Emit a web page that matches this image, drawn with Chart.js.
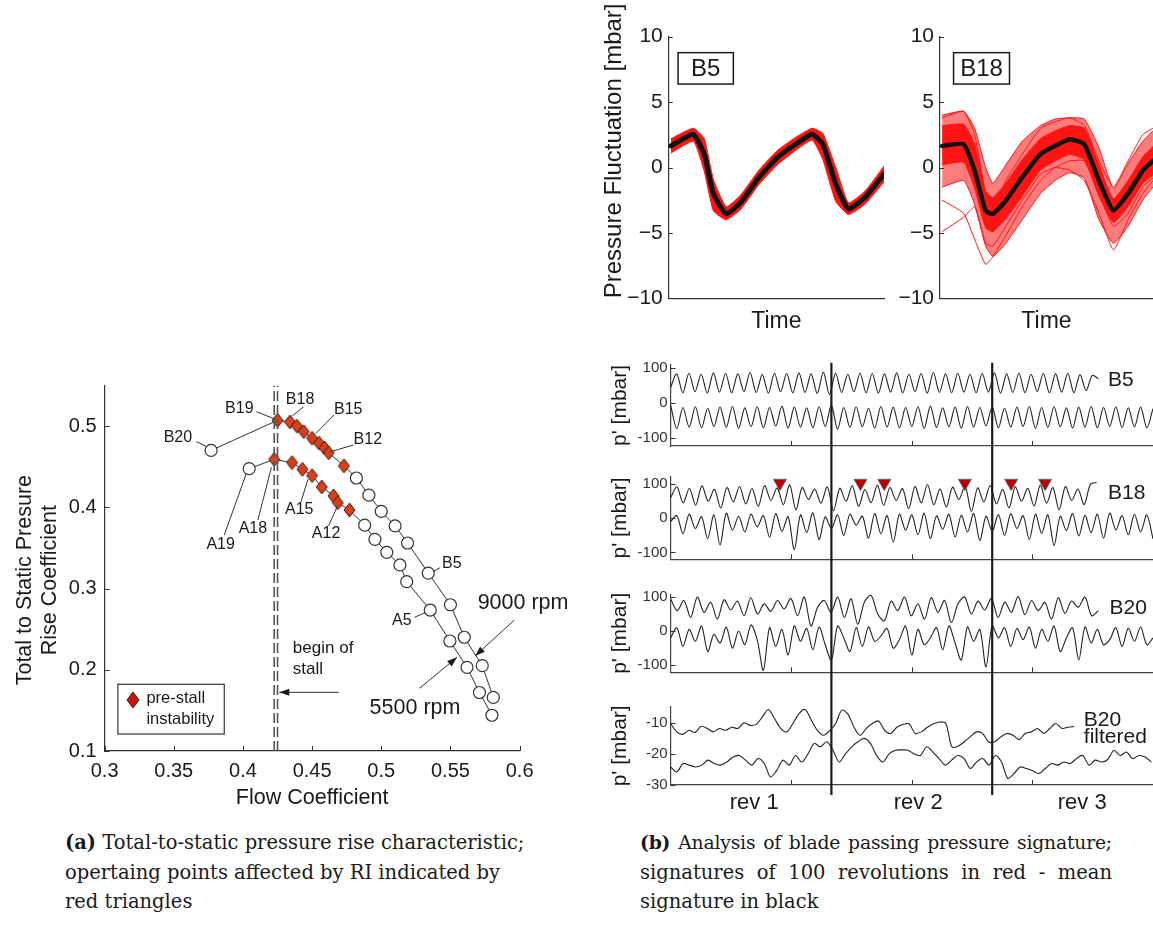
<!DOCTYPE html>
<html>
<head>
<meta charset="utf-8">
<title>Pressure rise characteristic and blade passing signatures</title>
<script src="https://cdn.jsdelivr.net/npm/chart.js@4.4.1/dist/chart.umd.min.js"></script>
<style>
  html, body { margin: 0; padding: 0; background: #fff; }
  body { position: relative; width: 1153px; height: 927px; overflow: hidden; }
  canvas { position: absolute; }
  .cap { position: absolute; font-family: "DejaVu Serif", "Liberation Serif", serif; font-size: 19.5px; line-height: 29.5px; color: #1a1a1a; white-space: nowrap; }
  .cap .j { text-align: justify; text-align-last: justify; }
  .cap .tight { font-size: 18.8px; letter-spacing: -0.2px; }
</style>
</head>
<body>
<canvas id="flowChart" width="578" height="450" style="left:0px;top:370px"></canvas>
<canvas id="sigB5" width="310" height="340" style="left:580px;top:0px"></canvas>
<canvas id="sigB18" width="263" height="340" style="left:890px;top:0px"></canvas>
<canvas id="stripB5" width="573" height="120" style="left:580px;top:340px"></canvas>
<canvas id="stripB18" width="573" height="115" style="left:580px;top:460px"></canvas>
<canvas id="stripB20" width="573" height="115" style="left:580px;top:575px"></canvas>
<canvas id="stripFilt" width="573" height="130" style="left:580px;top:690px"></canvas>

<div class="cap" style="left:65px;top:828px;width:480px">
  <div><b>(a)</b> Total-to-static pressure rise characteristic;</div>
  <div>opertaing points affected by RI indicated by</div>
  <div>red triangles</div>
</div>
<div class="cap" style="left:640px;top:828px;width:472px">
  <div class="j tight"><b>(b)</b> Analysis of blade passing pressure signature;</div>
  <div class="j">signatures of 100 revolutions in red - mean</div>
  <div>signature in black</div>
</div>

<script>
// ---------- (a) pressure rise characteristic ----------
const flowB = [0.377, 0.425, 0.434, 0.439, 0.444, 0.450, 0.455, 0.459, 0.462, 0.473, 0.482, 0.491, 0.500, 0.510, 0.519, 0.534, 0.550, 0.560, 0.573, 0.581];
const psiB = [0.470, 0.507, 0.505, 0.500, 0.493, 0.485, 0.479, 0.473, 0.467, 0.451, 0.436, 0.415, 0.395, 0.377, 0.356, 0.319, 0.280, 0.240, 0.205, 0.166];
const namesB = ['B20', 'B19', 'B18', 'B17', 'B16', 'B15', 'B14', 'B13', 'B12', 'B11', 'B10', 'B9', 'B8', 'B7', 'B6', 'B5', 'B4', 'B3', 'B2', 'B1'];
const preStallB = ['B19', 'B18', 'B17', 'B16', 'B15', 'B14', 'B13', 'B12', 'B11'];

const flowA = [0.4045, 0.4226, 0.4355, 0.443, 0.450, 0.457, 0.4655, 0.4686, 0.477, 0.488, 0.4954, 0.504, 0.5135, 0.5184, 0.5354, 0.5496, 0.562, 0.571, 0.580];
const psiA = [0.4475, 0.459, 0.455, 0.4467, 0.439, 0.425, 0.414, 0.4056, 0.3966, 0.378, 0.3605, 0.3445, 0.329, 0.3084, 0.2735, 0.2354, 0.203, 0.172, 0.144];
const namesA = ['A19', 'A18', 'A17', 'A16', 'A15', 'A14', 'A13', 'A12', 'A11', 'A10', 'A9', 'A8', 'A7', 'A6', 'A5', 'A4', 'A3', 'A2', 'A1'];
const preStallA = ['A18', 'A17', 'A16', 'A15', 'A14', 'A13', 'A12', 'A11'];

const stallFlow = [0.4226, 0.425];
const flowTicks = [0.3, 0.35, 0.4, 0.45, 0.5, 0.55, 0.6];
const psiTicks = [0.1, 0.2, 0.3, 0.4, 0.5];

// labels with leader lines (data coordinates)
const pointNotes = [
  { text: 'B20', at: [0.353, 0.486], from: [0.3664, 0.4807], to: [0.3741, 0.4745] },
  { text: 'B19', at: [0.3974, 0.5215], from: [0.4097, 0.5176], to: [0.4232, 0.5086] },
  { text: 'B18', at: [0.4413, 0.532], from: [0.4439, 0.5238], to: [0.4356, 0.5123] },
  { text: 'B15', at: [0.4761, 0.5206], from: [0.4658, 0.5135], to: [0.4528, 0.491] },
  { text: 'B12', at: [0.4903, 0.4828], from: [0.48, 0.4766], to: [0.4632, 0.4684] },
  { text: 'B5', at: [0.551, 0.331], from: [0.5425, 0.3256], to: [0.5373, 0.3207] },
  { text: 'A19', at: [0.3839, 0.3535], from: [0.3865, 0.3658], to: [0.4025, 0.4418] },
  { text: 'A18', at: [0.4072, 0.3732], from: [0.4108, 0.3843], to: [0.4206, 0.4492] },
  { text: 'A15', at: [0.4407, 0.3966], from: [0.442, 0.4068], to: [0.447, 0.4344] },
  { text: 'A12', at: [0.4601, 0.3679], from: [0.4619, 0.3773], to: [0.4684, 0.4015] },
  { text: 'A5', at: [0.5148, 0.2604], from: [0.5239, 0.2645], to: [0.5316, 0.2702] },
];
const speedNotes = [
  { text: '9000 rpm', at: [0.6025, 0.2818], from: [0.5962, 0.2612], to: [0.5678, 0.2169] },
  { text: '5500 rpm', at: [0.5244, 0.1525], from: [0.5277, 0.1772], to: [0.5548, 0.2153] },
];
const stallNote = { lines: ['begin of', 'stall'], x: 0.4361, y: [0.2264, 0.2006], from: [0.4692, 0.1722], to: [0.4263, 0.1722] };
const legendBox = { x: [0.3096, 0.3865], y: [0.1821, 0.1209], mark: [0.3205, 0.1628], textX: 0.3302, textY: [0.1649, 0.139], lines: ['pre-stall', 'instability'] };

// ---------- (b) top: mean signatures ----------
const sigTicks = [-10, -5, 0, 5, 10];
const timeB5 = [0.01, 0.114, 0.165, 0.207, 0.267, 0.334, 0.419, 0.504, 0.589, 0.666, 0.716, 0.776, 0.835, 0.912, 1.0];
const meanB5 = [1.65, 2.54, 1.0, -2.0, -3.55, -2.67, -0.76, 0.76, 1.78, 2.54, 1.78, -1.27, -3.17, -2.28, -0.5];
const upperB5 = [2.2, 3.0, 2.2, -0.9, -3.0, -2.1, -0.2, 1.3, 2.3, 3.0, 2.6, 0.0, -2.7, -1.8, 0.1];
const lowerB5 = [1.1, 2.0, -0.3, -3.3, -4.0, -3.2, -1.3, 0.2, 1.3, 2.1, 0.6, -2.6, -3.6, -2.8, -1.1];

const timeB18 = [0.01, 0.110, 0.161, 0.212, 0.246, 0.306, 0.382, 0.467, 0.535, 0.603, 0.671, 0.739, 0.806, 0.874, 0.942, 0.99];
const meanB18 = [1.65, 1.78, -0.25, -3.3, -3.55, -2.54, -0.76, 1.02, 1.65, 2.16, 1.78, -1.0, -3.3, -2.0, -0.25, 0.5];
const innerUpB18 = [3.2, 3.3, 1.8, -1.8, -2.3, -1.2, 0.6, 2.2, 2.8, 3.2, 3.0, 0.2, -2.4, -1.0, 0.8, 1.6];
const innerLoB18 = [0.2, 0.4, -1.6, -4.6, -4.9, -3.9, -2.2, -0.2, 0.5, 1.0, 0.6, -2.2, -4.2, -3.0, -1.2, -0.6];
const outerUpB18 = [4.0, 4.3, 3.0, 0.0, -1.2, 0.2, 2.0, 3.2, 3.7, 3.8, 3.7, 1.5, -1.6, 0.3, 2.0, 2.8];
const outerLoB18 = [-1.5, -1.0, -2.8, -6.0, -6.8, -5.8, -4.0, -2.0, -1.0, -0.4, -0.8, -4.0, -5.8, -4.5, -2.5, -1.5];
const strayB18a = [-2.5, -3.5, -5.5, -7.4, -6.8, -5.2, -3.0, -1.0, 0.0, 0.5, 0.5, -2.0, -4.5, -3.5, -1.5, -0.8];
const strayB18b = [-4.9, -3.8, -3.0, -5.8, -6.0, -4.5, -2.5, -0.5, 0.0, -0.2, -1.0, -3.5, -6.3, -4.0, -2.0, -1.0];
const strayB18c = [3.8, 4.3, 2.5, -2.0, -3.0, -1.0, 1.0, 3.0, 3.5, 3.8, 3.2, 0.5, -1.5, 0.5, 2.5, 3.0];

// ---------- (b) bottom: three revolutions of raw signal ----------
const revBoundaries = [1, 2];
const stripTickRevs = [0.75, 1.5, 2.25, 3];
const revLabels = ['rev 1', 'rev 2', 'rev 3'];
const revLabelAt = [0.52, 1.54, 2.56];

const b5Upper = [45, 84, 30, 86, 33, 83, 29, 87, 32, 85, 30, 84, 34, 88, 31, 82, 29, 86, 33, 85,
  30, 87, 31, 84, 28, 89, 25, 86, 31, 83, 33, 86, 30, 85, 29, 84, 32, 87, 30, 83,
  33, 85, 29, 88, 31, 84, 30, 86, 32, 83, 30, 85, 32, 87, 29, 84, 31, 86, 30, 83,
  34, 85, 30, 84, 32, 86, 30, 82, 36, 80, 70];
const b5Lower = [-5, -72, -12, -68, -10, -70, -14, -66, -11, -69, -9, -72, -13, -67, -10, -70, -12, -65, -8, -71,
  -11, -68, -13, -70, -10, -66, -6, -74, -12, -69, -10, -67, -14, -71, -9, -68, -11, -70, -12, -66,
  -10, -72, -8, -69, -13, -67, -11, -71, -9, -68, -12, -65, -10, -70, -14, -68, -11, -66, -9, -72,
  -12, -69, -10, -67, -13, -71, -11, -68, -9, -70, -12, -66, -10, -69, -13, -67, -11, -70, -15];

const b18Upper = [60, 92, 45, 88, 38, 95, 50, 85, 30, 90, 48, 93, 42, 87, 35, 96, 52, 89, 40, 98,
  25, 90, 55, 86, 44, 92, 22, 88, 50, 95, 35, 84, 46, 97, 38, 90, 52, 87, 28, 93,
  45, 99, 40, 86, 33, 91, 55, 94, 20, 89, 48, 96, 42, 85, 30, 92, 50, 88, 36, 97,
  44, 90, 25, 93, 52, 86, 40, 100, 105];
const b18Lower = [-10, 8, -45, 12, -30, 5, -60, 10, -78, 15, -35, 6, -40, 12, -25, 8, -55, 14, -38, 5,
  -92, 10, -42, 16, -62, 4, -30, 10, -50, 12, -20, 6, -58, 14, -45, 8, -70, 12, -35, 10,
  -48, 15, -60, 7, -32, 12, -55, 9, -40, 14, -65, 6, -38, 11, -50, 13, -30, 8, -62, 12,
  -44, 10, -80, 6, -36, 14, -52, 9, -42, 12, -58, 15, -34, 8, -48, 12, -40, 10, -60];
const triangleRevs = [0.680, 1.181, 1.329, 1.830, 2.118, 2.329];
const triangleLevel = 103;

const b20Upper = [95, 60, 90, 40, 100, 55, 85, 35, 92, 62, 88, 45, 98, 50, 80, 58, 90, 65, 96, 45,
  100, 15, 70, 90, 55, 100, 40, 95, 20, 85, 105, 50, 30, 88, 60, 100, 45, 80, 35, 98,
  55, 90, 25, 80, 100, 50, 88, 62, 95, 40, 85, 55, 102, 48, 90, 60, 84, 35, 98, 52,
  88, 70, 100, 45, 60];
const b20Lower = [-20, 10, -45, 5, -30, 15, -60, -10, -35, 12, -50, 0, -40, 18, -25, -115, 10, -45, 5, -70,
  15, -30, 8, -55, 12, -40, -85, 15, -20, -60, 10, -45, 12, -30, -15, 8, -50, -25, 15, -70,
  5, -40, -20, 10, -55, 15, -35, -85, 12, -30, 5, -105, 15, -20, 10, -45, 8, -25, 12, -50,
  5, -30, 15, -60, -20, 10, -85, 12, -35, 5, -40, -25, 10, -45, 8, -30, 12, -40, -20];

const filtUpper = [-10.2, -12.9, -13.7, -12.4, -13.1, -11.1, -11.8, -12.9, -11.8, -12.4,
  -11.4, -11.8, -10.0, -10.8, -10.5, -8.1, -5.7, -8.6, -11.8, -12.9,
  -10.2, -7.0, -5.7, -9.1, -12.4, -14.0, -12.6, -10.2, -5.9, -7.2,
  -11.4, -14.0, -11.8, -10.2, -9.4, -12.4, -13.4, -11.4, -10.5, -10.3,
  -13.4, -12.9, -11.4, -10.3, -9.7, -10.2, -17.7, -17.5, -16.1, -14.5,
  -12.9, -13.4, -16.1, -16.1, -14.5, -13.4, -14.0, -15.4, -13.4, -12.9,
  -11.8, -13.4, -11.8, -10.2, -11.8, -11.4, -11.2];
const filtLower = [-24.2, -25.8, -23.1, -23.6, -24.2, -23.6, -22.0, -23.1, -23.6, -22.6,
  -21.0, -20.5, -22.0, -23.6, -21.5, -23.1, -27.4, -25.3, -22.0, -23.6,
  -20.5, -22.6, -20.0, -16.6, -17.7, -16.1, -18.8, -22.6, -20.0, -17.7,
  -16.1, -15.0, -16.6, -20.5, -22.6, -20.0, -18.8, -18.7, -18.8, -20.0,
  -20.5, -17.7, -19.4, -21.5, -23.6, -22.0, -20.5, -21.5, -24.7, -22.6,
  -21.5, -23.6, -20.5, -22.6, -27.9, -26.3, -24.2, -24.7, -25.4, -26.3,
  -24.7, -23.1, -23.6, -22.6, -23.1, -21.5, -20.5, -23.6, -22.0, -22.6,
  -21.8, -18.8, -20.5, -19.4, -21.5, -20.5, -21.0, -22.6];

// ---------- shared settings ----------
const FONT = '"Liberation Sans", Arial, sans-serif';
Chart.defaults.font.family = FONT;
Chart.defaults.color = '#1a1a1a';
Chart.defaults.animation = false;
Chart.defaults.events = [];
Chart.defaults.responsive = false;
Chart.defaults.layout.autoPadding = false;
Chart.defaults.plugins.legend.display = false;
Chart.defaults.plugins.tooltip.enabled = false;

const xy = (xs, ys) => xs.map((x, i) => ({ x, y: ys[i] }));
const sampled = (ys, end) => ys.map((y, i) => ({ x: i * end / (ys.length - 1), y }));

function setTicks(values) {
  return s => { s.ticks = values.map(v => ({ value: v })); };
}
function fixSize(size) {
  return s => {
    if (s.isHorizontal()) s.height = size; else s.width = size;
    s.paddingTop = s.paddingBottom = s.paddingLeft = s.paddingRight = 0;
  };
}

// small inward tick marks, matlab style
Chart.register({
  id: 'inwardTicks',
  afterDraw(chart, args, opts) {
    const { ctx, chartArea: a, scales: { x, y } } = chart;
    const len = opts.len || 5;
    ctx.save();
    ctx.strokeStyle = '#333';
    ctx.lineWidth = 1;
    ctx.beginPath();
    (opts.x || []).forEach(v => {
      const p = Math.round(x.getPixelForValue(v)) + 0.5;
      ctx.moveTo(p, a.bottom); ctx.lineTo(p, a.bottom - len);
    });
    (opts.y || []).forEach(v => {
      const p = Math.round(y.getPixelForValue(v)) + 0.5;
      ctx.moveTo(a.left, p); ctx.lineTo(a.left + len, p);
    });
    ctx.stroke();
    ctx.restore();
  }
});

function leader(ctx, x1, y1, x2, y2, head) {
  ctx.beginPath(); ctx.moveTo(x1, y1); ctx.lineTo(x2, y2); ctx.stroke();
  if (!head) return;
  const a = Math.atan2(y2 - y1, x2 - x1), l = 10, w = 3.5;
  ctx.beginPath();
  ctx.moveTo(x2, y2);
  ctx.lineTo(x2 - l * Math.cos(a) + w * Math.sin(a), y2 - l * Math.sin(a) - w * Math.cos(a));
  ctx.lineTo(x2 - l * Math.cos(a) - w * Math.sin(a), y2 - l * Math.sin(a) + w * Math.cos(a));
  ctx.closePath(); ctx.fill();
}

function diamondMark(w, h, fill, stroke) {
  const c = document.createElement('canvas');
  c.width = w + 2; c.height = h + 2;
  const g = c.getContext('2d');
  g.beginPath();
  g.moveTo(c.width / 2, 1); g.lineTo(c.width - 1, c.height / 2);
  g.lineTo(c.width / 2, c.height - 1); g.lineTo(1, c.height / 2);
  g.closePath();
  g.fillStyle = fill; g.fill();
  g.strokeStyle = stroke; g.lineWidth = 1; g.stroke();
  return c;
}
const redDiamond = diamondMark(11, 14, '#d8401a', '#3a1a10');

// ---------- chart (a) ----------
function speedLine(xs, ys, names, flagged) {
  return {
    data: xy(xs, ys),
    borderColor: '#333', borderWidth: 1,
    pointStyle: c => flagged.includes(names[c.dataIndex]) ? redDiamond : 'circle',
    pointRadius: 6, pointBackgroundColor: '#fff', pointBorderColor: '#333', pointBorderWidth: 1.2,
  };
}
function stallLine(f) {
  return { data: [{ x: f, y: 0.1 }, { x: f, y: 0.55 }], borderColor: '#555', borderWidth: 1.6, borderDash: [10, 4], pointRadius: 0 };
}

const flowNotes = {
  id: 'flowNotes',
  afterDatasetsDraw(chart) {
    const { ctx, scales: { x, y } } = chart;
    const P = ([a, b]) => [x.getPixelForValue(a), y.getPixelForValue(b)];
    ctx.save();
    ctx.strokeStyle = '#333'; ctx.fillStyle = '#1a1a1a'; ctx.lineWidth = 1;
    ctx.textAlign = 'center'; ctx.textBaseline = 'middle';
    ctx.font = '16px ' + FONT;
    pointNotes.forEach(n => {
      leader(ctx, ...P(n.from), ...P(n.to), false);
      ctx.fillText(n.text, ...P(n.at));
    });
    ctx.font = '21.5px ' + FONT;
    speedNotes.forEach(n => {
      leader(ctx, ...P(n.from), ...P(n.to), true);
      ctx.fillText(n.text, ...P(n.at));
    });
    ctx.font = '17px ' + FONT; ctx.textAlign = 'left';
    stallNote.lines.forEach((t, i) => ctx.fillText(t, ...P([stallNote.x, stallNote.y[i]])));
    leader(ctx, ...P(stallNote.from), ...P(stallNote.to), true);

    const [bx1, by1] = P([legendBox.x[0], legendBox.y[0]]);
    const [bx2, by2] = P([legendBox.x[1], legendBox.y[1]]);
    ctx.fillStyle = '#fff'; ctx.fillRect(bx1, by1, bx2 - bx1, by2 - by1);
    ctx.lineWidth = 1.2; ctx.strokeRect(bx1, by1, bx2 - bx1, by2 - by1);
    const [mx, my] = P(legendBox.mark);
    ctx.beginPath();
    ctx.moveTo(mx, my - 8); ctx.lineTo(mx + 6, my); ctx.lineTo(mx, my + 8); ctx.lineTo(mx - 6, my); ctx.closePath();
    ctx.fillStyle = '#c4150c'; ctx.fill(); ctx.lineWidth = 1; ctx.strokeStyle = '#5a1a10'; ctx.stroke();
    ctx.fillStyle = '#1a1a1a'; ctx.font = '16.5px ' + FONT;
    legendBox.lines.forEach((t, i) => ctx.fillText(t, ...P([legendBox.textX, legendBox.textY[i]])));
    ctx.restore();
  }
};

const trim = v => String(Number(v.toFixed(2)));

new Chart(document.getElementById('flowChart'), {
  type: 'line',
  data: {
    datasets: [
      stallLine(stallFlow[0]), stallLine(stallFlow[1]),
      speedLine(flowB, psiB, namesB, preStallB),
      speedLine(flowA, psiA, namesA, preStallA),
    ]
  },
  options: {
    layout: { padding: { top: 15.4, right: 58.4, bottom: 0, left: 0 } },
    scales: {
      x: {
        type: 'linear', min: 0.3, max: 0.6,
        afterFit: fixSize(69), afterBuildTicks: setTicks(flowTicks),
        grid: { display: false, drawTicks: false }, border: { color: '#333', width: 1.2 },
        ticks: { padding: 8, font: { size: 20 }, callback: trim },
        title: { display: true, text: 'Flow Coefficient', font: { size: 21.5 }, padding: { top: 0, bottom: 9 } }
      },
      y: {
        type: 'linear', min: 0.1, max: 0.55,
        afterFit: fixSize(104.6), afterBuildTicks: setTicks(psiTicks),
        grid: { display: false, drawTicks: false }, border: { color: '#333', width: 1.2 },
        ticks: { padding: 8, font: { size: 20 }, callback: trim },
        title: {
          display: true, text: ['Total to Static Presure    ', 'Rise Coefficient    '],
          font: { size: 21.5, lineHeight: 1.16 }, padding: { top: 12.5, bottom: 0 }
        }
      }
    },
    plugins: { inwardTicks: { x: flowTicks, y: psiTicks, len: 5 } }
  },
  plugins: [flowNotes]
});

// ---------- top signature panels ----------
const curve = (t, v, color, width, extra) => Object.assign({
  data: xy(t, v), borderColor: color, borderWidth: width, pointRadius: 0, tension: 0.15,
  borderJoinStyle: 'round', borderCapStyle: 'round', fill: false
}, extra || {});

function boxLabel(box) {
  return {
    id: 'boxLabel',
    afterDatasetsDraw(chart) {
      const { ctx, scales: { x, y } } = chart;
      const x1 = x.getPixelForValue(box.x[0]), x2 = x.getPixelForValue(box.x[1]);
      const y1 = y.getPixelForValue(box.y[0]), y2 = y.getPixelForValue(box.y[1]);
      ctx.save();
      ctx.fillStyle = '#fff'; ctx.fillRect(x1, y1, x2 - x1, y2 - y1);
      ctx.strokeStyle = '#1a1a1a'; ctx.lineWidth = 1.5; ctx.strokeRect(x1, y1, x2 - x1, y2 - y1);
      ctx.fillStyle = '#1a1a1a'; ctx.font = '24px ' + FONT;
      ctx.textAlign = 'center'; ctx.textBaseline = 'middle';
      ctx.fillText(box.text, (x1 + x2) / 2, (y1 + y2) / 2 + 1);
      ctx.restore();
    }
  };
}

function sigChart(id, o) {
  return new Chart(document.getElementById(id), {
    type: 'line',
    data: { datasets: o.datasets },
    options: {
      layout: { padding: { top: 36.7, right: o.padRight, bottom: 0, left: 0 } },
      scales: {
        x: {
          type: 'linear', min: 0, max: o.xMax, afterFit: fixSize(41.7),
          grid: { display: false, drawTicks: false }, border: { color: '#333', width: 1.2 },
          ticks: { display: false },
          title: { display: true, text: 'Time', font: { size: 23 }, padding: { top: 0, bottom: 4.5 } }
        },
        y: {
          type: 'linear', min: -10, max: 10, afterFit: fixSize(o.yWidth), afterBuildTicks: setTicks(sigTicks),
          grid: { display: false, drawTicks: false }, border: { color: '#333', width: 1.2 },
          ticks: { padding: 6, font: { size: 21 }, callback: v => v < 0 ? '\u2212' + Math.abs(v) : String(v) },
          title: o.yTitle
            ? { display: true, text: o.yTitle, align: 'start', font: { size: 24 }, padding: { top: 19.6, bottom: 0 } }
            : { display: false }
        }
      },
      plugins: { inwardTicks: { y: sigTicks, len: 4 } }
    },
    plugins: [boxLabel(o.box)]
  });
}

const RED = '#ff1414';
sigChart('sigB5', {
  xMax: 1, padRight: 6, yWidth: 88.8, yTitle: 'Pressure Fluctuation [mbar]',
  box: { text: 'B5', x: [0.043, 0.30], y: [8.78, 6.38] },
  datasets: [
    curve(timeB5, meanB5, '#111', 5),
    curve(timeB5, upperB5, RED, 1),
    curve(timeB5, lowerB5, RED, 1, { fill: '-1', backgroundColor: RED }),
  ]
});

sigChart('sigB18', {
  xMax: 0.99, padRight: 0, yWidth: 50, yTitle: null,
  box: { text: 'B18', x: [0.063, 0.323], y: [8.78, 6.38] },
  datasets: [
    curve(timeB18, meanB18, '#111', 4.5),
    curve(timeB18, strayB18a, RED, 1),
    curve(timeB18, strayB18b, RED, 1),
    curve(timeB18, strayB18c, RED, 1),
    curve(timeB18, innerUpB18, RED, 1),
    curve(timeB18, innerLoB18, RED, 1, { fill: '-1', backgroundColor: RED }),
    curve(timeB18, outerUpB18, RED, 1),
    curve(timeB18, outerLoB18, RED, 1, { fill: '-1', backgroundColor: 'rgba(255,30,30,0.58)' }),
  ]
});

// ---------- strip panels ----------
const trace = (ys, end) => ({ data: sampled(ys, end), borderColor: '#222', borderWidth: 1.1, pointRadius: 0, tension: 0.3 });

function stripDecor(labels, lineTop, lineBottom) {
  return {
    id: 'stripDecor',
    afterDraw(chart) {
      const { ctx, chartArea: a, scales: { x, y } } = chart;
      const top = lineTop == null ? 0 : a.top + lineTop;
      const bottom = lineBottom == null ? chart.height : a.bottom + lineBottom;
      ctx.save();
      ctx.strokeStyle = '#1a1a1a'; ctx.lineWidth = 2.2;
      revBoundaries.forEach(r => {
        const px = x.getPixelForValue(r);
        ctx.beginPath(); ctx.moveTo(px, top); ctx.lineTo(px, bottom); ctx.stroke();
      });
      ctx.fillStyle = '#1a1a1a'; ctx.font = '21px ' + FONT;
      ctx.textAlign = 'left'; ctx.textBaseline = 'middle';
      labels.forEach(l => ctx.fillText(l.text, x.getPixelForValue(l.x), y.getPixelForValue(l.y)));
      ctx.restore();
    }
  };
}

function stripChart(id, o) {
  return new Chart(document.getElementById(id), {
    type: 'line',
    data: { datasets: o.datasets },
    options: {
      layout: { padding: { top: o.padTop, right: 0, bottom: 0, left: 0 } },
      scales: {
        x: {
          type: 'linear', min: 0, max: 3, afterFit: fixSize(o.xHeight),
          afterBuildTicks: o.revTicks ? setTicks(revLabelAt) : undefined,
          grid: { display: false, drawTicks: false }, border: { color: '#444', width: 1.2 },
          ticks: { display: !!o.revTicks, padding: 5, font: { size: 22 }, callback: (v, i) => revLabels[i] }
        },
        y: {
          type: 'linear', min: o.yMin, max: o.yMax, afterFit: fixSize(90.6), afterBuildTicks: setTicks(o.yTicks),
          grid: { display: false, drawTicks: false }, border: { color: '#444', width: 1.2 },
          ticks: { padding: 3, font: { size: 15 }, color: '#333' },
          title: { display: true, text: "p' [mbar]", font: { size: 21 }, padding: { top: 27.4, bottom: 0 } }
        }
      },
      plugins: { inwardTicks: { x: stripTickRevs, y: o.yTicks, len: 5 } }
    },
    plugins: [stripDecor(o.labels, o.lineTop, o.lineBottom)]
  });
}

const rawTicks = [-100, 0, 100];

stripChart('stripB5', {
  padTop: 24.8, xHeight: 14, yMin: -122, yMax: 110, yTicks: rawTicks, lineTop: -2, lineBottom: null,
  labels: [{ text: 'B5', x: 2.72, y: 66 }],
  datasets: [trace(b5Upper, 2.66), trace(b5Lower, 3)]
});

stripChart('stripB18', {
  padTop: 16.6, xHeight: 15.7, yMin: -120, yMax: 122, yTicks: rawTicks, lineTop: null, lineBottom: null,
  labels: [{ text: 'B18', x: 2.72, y: 73 }],
  datasets: [
    {
      data: triangleRevs.map(x => ({ x, y: triangleLevel })), showLine: false,
      pointStyle: 'triangle', pointRotation: 180, pointRadius: 7.5,
      pointBackgroundColor: '#b80000', pointBorderColor: '#666', pointBorderWidth: 1
    },
    trace(b18Upper, 2.65), trace(b18Lower, 3)
  ]
});

stripChart('stripB20', {
  padTop: 19.3, xHeight: 17.7, yMin: -121, yMax: 108, yTicks: rawTicks, lineTop: null, lineBottom: null,
  labels: [{ text: 'B20', x: 2.73, y: 67 }],
  datasets: [trace(b20Upper, 2.66), trace(b20Lower, 3)]
});

stripChart('stripFilt', {
  padTop: 16.7, xHeight: 35, yMin: -30, yMax: -4.8, yTicks: [-30, -20, -10], lineTop: null, lineBottom: 10,
  revTicks: true,
  labels: [{ text: 'B20', x: 2.57, y: -9.1 }, { text: 'filtered', x: 2.57, y: -14.7 }],
  datasets: [trace(filtUpper, 2.51), trace(filtLower, 2.99)]
});
</script>
</body>
</html>
